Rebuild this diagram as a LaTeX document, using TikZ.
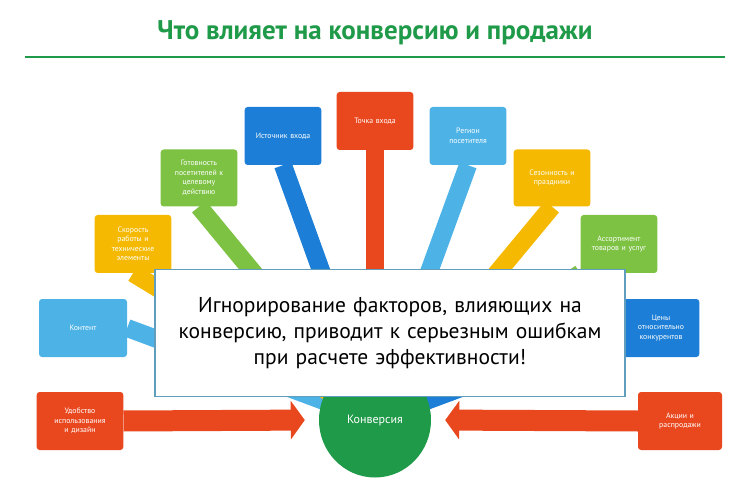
\documentclass[tikz,border=0pt]{standalone}
\usepackage{fontspec}
\setmainfont{PT Sans}
\usetikzlibrary{positioning}
\usetikzlibrary{arrows.meta}
\usetikzlibrary{shapes.geometric}
\definecolor{cred}{HTML}{E9481F}
\definecolor{cltblue}{HTML}{4DB3E6}
\definecolor{cblue}{HTML}{1C7ED6}
\definecolor{cyellow}{HTML}{F4B900}
\definecolor{cgreen}{HTML}{7DC243}
\definecolor{cdkgreen}{HTML}{1E9A48}
\tikzset{
    factor/.style={rounded corners=3pt, fill=#1, text=white, minimum width=73pt, minimum height=58pt,
        text width=70pt, align=center, font=\fontsize{7.8}{9.5}\selectfont},
    band/.style={line width=18pt, draw=#1, shorten >=30pt, -{Triangle[width=26pt,length=12pt]}},
    redarrow/.style={line width=21pt, draw=cred, shorten >=14pt, -{Triangle[width=38pt,length=14pt]}}
}
\begin{document}
\begin{tikzpicture}[x=1pt, y=-1pt]
            \useasboundingbox (0,0) rectangle (750,489);
            \node [text=cdkgreen, font=\bfseries\fontsize{27}{30}\selectfont] (title) at (375,33)
                {Что влияет на конверсию и продажи};
            \draw [cdkgreen, line width=2.5pt] (25,57) -- (725,57);

            \coordinate (hub) at (375,420);

            \node [factor=cred, minimum width=84pt, text width=80pt] (udob) at (80,421) {Удобство\\использования\\и дизайн};
            \node [factor=cltblue, minimum width=88pt] (kont) at (83,328) {Контент};
            \node [factor=cyellow] (skor) at (133,244) {Скорость\\работы и\\технические\\элементы};
            \node [factor=cgreen, minimum width=72pt, minimum height=57pt] (gotov) at (199,178) {Готовность\\посетителей к\\целевому\\действию};
            \node [factor=cblue] (istoch) at (283,136) {Источник входа};
            \node [factor=cred] (tochka) at (375,121) {Точка входа};
            \node [factor=cltblue] (region) at (468,136) {Регион\\посетителя};
            \node [factor=cyellow, minimum width=72pt, minimum height=57pt] (sezon) at (552,178) {Сезонность и\\праздники};
            \node [factor=cgreen, minimum width=72pt] (assort) at (619,244) {Ассортимент\\товаров и услуг};
            \node [factor=cblue] (ceny) at (661,328) {Цены\\относительно\\конкурентов};
            \node [factor=cred, minimum width=84pt] (akcii) at (680,421) {Акции и\\распродажи};

            % bands towards the hub
            \draw [band=cltblue] (kont.east) -- (hub);
            \draw [band=cyellow] (skor.south) -- (hub);
            \draw [band=cgreen] (gotov.south) -- (hub);
            \draw [band=cblue] (istoch.south) -- (hub);
            \draw [band=cred] (tochka.south) -- (hub);
            \draw [band=cltblue] (region.south) -- (hub);
            \draw [band=cyellow] (sezon.south) -- (hub);
            \draw [band=cgreen] (assort.south west) -- (hub);
            \draw [band=cblue] (ceny.west) -- (hub);

            \node [ellipse, fill=cdkgreen, text=white, minimum width=112pt, minimum height=115pt,
                font=\fontsize{12}{14}\selectfont] (konv) at (hub) {Конверсия};
            \draw [redarrow] (udob.east) -- (konv.west);
            \draw [redarrow] (akcii.west) -- (konv.east);

            \node [fill=white, draw=cltblue!60!gray, line width=1.5pt, minimum width=470pt, minimum height=127pt,
                text width=460pt, align=center, font=\fontsize{21.5}{26}\selectfont] (note) at (390,333)
                {Игнорирование факторов, влияющих на\\конверсию, приводит к серьезным ошибкам\\при расчете эффективности!};
        \end{tikzpicture}
\end{document}
